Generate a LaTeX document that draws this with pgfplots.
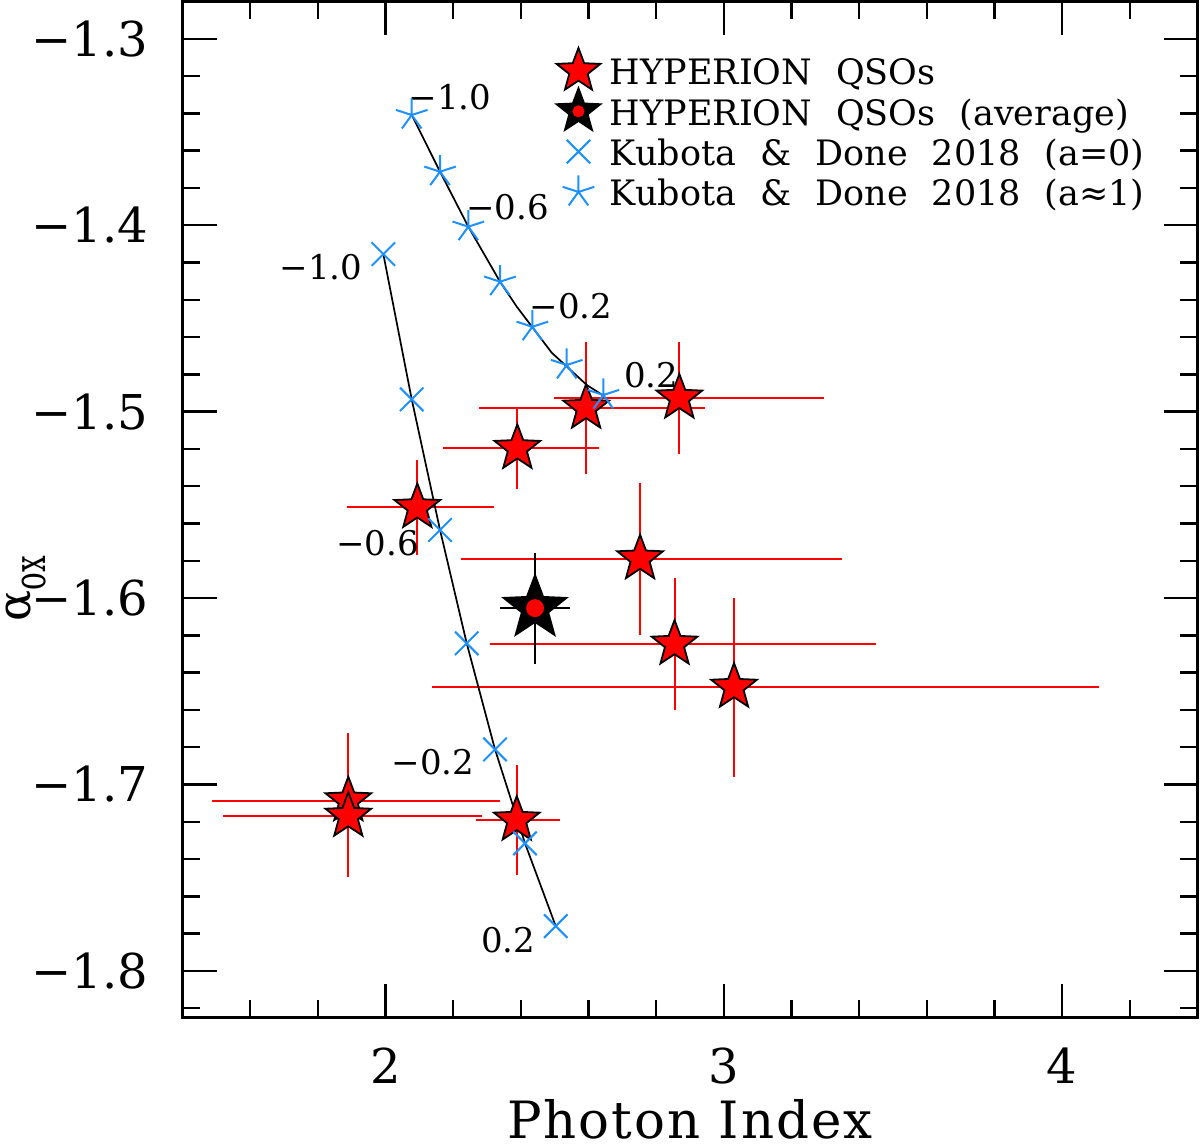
\documentclass[border=0pt]{standalone}
\usepackage{fontspec}
\setmainfont{DejaVu Serif}
\newfontfamily\widefont[LetterSpace=4]{DejaVu Serif}
\usepackage{graphicx}
\usepackage{pgfplots}
\usepackage{pgfplotstable}
\pgfplotsset{compat=1.18}
\definecolor{dodger}{RGB}{30,144,255}
\newcommand\tickfont{\fontsize{24}{24}\selectfont}
\newcommand\legfont{\fontsize{17.5}{20}\selectfont\spaceskip=12pt\relax}
\newcommand\annfont{\fontsize{17}{17}\selectfont}
\newcommand\xlfont{\widefont\fontsize{25.7}{26}\selectfont}

\pgfdeclareplotmark{fstar}{%
  \pgfpathmoveto{\pgfpointpolar{90}{\pgfplotmarksize}}%
  \pgfpathlineto{\pgfpointpolar{126}{0.42*\pgfplotmarksize}}%
  \pgfpathlineto{\pgfpointpolar{162}{\pgfplotmarksize}}%
  \pgfpathlineto{\pgfpointpolar{198}{0.42*\pgfplotmarksize}}%
  \pgfpathlineto{\pgfpointpolar{234}{\pgfplotmarksize}}%
  \pgfpathlineto{\pgfpointpolar{270}{0.42*\pgfplotmarksize}}%
  \pgfpathlineto{\pgfpointpolar{306}{\pgfplotmarksize}}%
  \pgfpathlineto{\pgfpointpolar{342}{0.42*\pgfplotmarksize}}%
  \pgfpathlineto{\pgfpointpolar{18}{\pgfplotmarksize}}%
  \pgfpathlineto{\pgfpointpolar{54}{0.42*\pgfplotmarksize}}%
  \pgfpathclose
  \pgfusepathqfillstroke
}

\pgfplotstableread{
x y xp xm yp ym
2.5930 -1.4981 0.352 0.318 0.0353 0.0354
2.8685 -1.4927 0.428 0.370 0.0299 0.0302
2.3897 -1.5197 0.2415 0.2206 0.0211 0.0218
2.0941 -1.5514 0.2267 0.2087 0.0254 0.0255
2.7524 -1.5789 0.597 0.529 0.0407 0.0410
2.8543 -1.6247 0.596 0.544 0.0356 0.0354
3.0302 -1.6478 1.078 0.893 0.0479 0.0481
1.8901 -1.7087 0.4484 0.4038 0.0364 0.0360
1.8901 -1.7170 0.3943 0.3695 0.0328 0.0328
2.3879 -1.7191 0.128 0.1203 0.0295 0.0295
}\hyperion

\pgfplotstableread{
x y xp xm yp ym
2.442 -1.6054 0.1034 0.1035 0.0295 0.0300
}\average

\pgfplotstableread{
x y
1.9936 -1.4155
2.0775 -1.4934
2.1612 -1.5635
2.2401 -1.6243
2.3237 -1.6812
2.4124 -1.7316
2.5032 -1.7760
}\kdzero

\pgfplotstableread{
x y
2.0775 -1.3409
2.1612 -1.3713
2.2448 -1.4008
2.3385 -1.4303
2.4340 -1.4545
2.5357 -1.4750
2.6439 -1.4911
}\kdone

\pgfplotstableread{
x y
2.0775 -1.3409
2.1612 -1.3713
2.2448 -1.4008
2.3385 -1.4303
2.3879 -1.4437
2.4361 -1.4552
2.4913 -1.4684
2.5948 -1.4857
2.6439 -1.4914
}\kdoneline

\begin{document}
\begin{tikzpicture}
\begin{axis}[
  scale only axis, width=507.5pt, height=508pt,
  xmin=1.4, xmax=4.4, ymin=-1.825, ymax=-1.28,
  xtick={2,3,4}, xticklabels={2,3,4},
  ytick={-1.8,-1.7,-1.6,-1.5,-1.4,-1.3},
  yticklabels={−1.8,−1.7,−1.6,−1.5,−1.4,−1.3},
  minor xtick={1.6,1.8,2.2,2.4,2.6,2.8,3.2,3.4,3.6,3.8,4.2},
  minor ytick={-1.82,-1.78,-1.76,-1.74,-1.72,-1.68,-1.66,-1.64,-1.62,-1.58,-1.56,-1.54,-1.52,-1.48,-1.46,-1.44,-1.42,-1.38,-1.36,-1.34,-1.32},
  tick align=inside, tick pos=both,
  major tick length=17pt, minor tick length=8.75pt,
  every tick/.style={black, line width=1.2pt},
  axis line style={line width=1.5pt},
  xticklabel style={font=\tickfont, inner sep=0pt, anchor=north, yshift=-14.75pt},
  yticklabel style={font=\tickfont, inner sep=0pt, anchor=east, xshift=-17pt},
  xlabel={Photon Index},
  xlabel style={font=\xlfont, at={(axis description cs:0.5,0)}, anchor=base, yshift=-60.5pt, inner sep=0pt},
  ylabel={{\fontsize{23}{23}\selectfont α\raisebox{-7.5pt}{\scalebox{0.67}[1]{\fontsize{22}{22}\selectfont ox}}}},
  ylabel style={at={(axis description cs:-0.1493,0.3893)}, anchor=base west, inner sep=0pt},
  legend cell align=left,
  legend style={at={(axis description cs:0.3655,0.9467)}, anchor=north west,
    draw=none, fill=none, inner sep=0pt, outer sep=0pt,
    row sep=0pt, column sep=0pt, font=\legfont,
    nodes={inner sep=0pt, text height=13pt, text depth=4pt}},
  legend image code/.code={
    \draw[#1, overlay] plot coordinates {(0pt,2.4pt)};
    \path[draw=none, fill=none] (-12.5pt,-10.08pt) rectangle (15.75pt,10.08pt);
  },
]
% HYPERION QSOs
\addplot[only marks, mark=fstar, mark size=12pt, draw=black, fill=red, line width=0.9pt, forget plot,
  error bars/.cd, x dir=both, x explicit, y dir=both, y explicit, error mark=none,
  error bar style={red, line width=1pt}]
  table[x=x, y=y, x error plus=xp, x error minus=xm, y error plus=yp, y error minus=ym]{\hyperion};
% average
\addplot[only marks, mark=fstar, mark size=16.5pt, draw=black, fill=black, line width=0.9pt, forget plot,
  error bars/.cd, x dir=both, x explicit, y dir=both, y explicit, error mark=none,
  error bar style={black, line width=1.3pt}]
  table[x=x, y=y, x error plus=xp, x error minus=xm, y error plus=yp, y error minus=ym]{\average};
\addplot[only marks, mark=*, mark size=4.25pt, red, forget plot] table[x=x, y=y]{\average};
% model curves
\addplot[black, line width=0.85pt, forget plot] table[x=x, y=y]{\kdzero};
\addplot[black, line width=0.85pt, forget plot] table[x=x, y=y]{\kdoneline};
\addplot[only marks, mark=x, mark size=8.3pt, dodger, line width=1pt, forget plot] table[x=x, y=y]{\kdzero};
\addplot[only marks, mark=star, mark size=8.3pt, dodger, line width=1pt, forget plot] table[x=x, y=y]{\kdone};

% legend
\addlegendimage{mark=fstar, mark size=11.5pt, draw=black, fill=red, line width=0.9pt}
\addlegendentry{HYPERION QSOs}
\addlegendimage{legend image code/.code={
    \draw[overlay, mark=fstar, mark size=11.5pt, draw=black, fill=black, line width=0.9pt] plot coordinates {(0pt,2.4pt)};
    \draw[overlay, mark=*, mark size=2.8pt, red] plot coordinates {(0pt,2.4pt)};
    \path[draw=none, fill=none] (-12.5pt,-10.08pt) rectangle (15.75pt,10.08pt);}}
\addlegendentry{HYPERION QSOs (average)}
\addlegendimage{mark=x, mark size=8.3pt, dodger, line width=1pt}
\addlegendentry{Kubota \& Done 2018 (a=0)}
\addlegendimage{mark=star, mark size=8.3pt, dodger, line width=1pt}
\addlegendentry{Kubota \& Done 2018 (a≈1)}

% curve labels
\node[font=\annfont, inner sep=0pt] at (axis cs:2.1907,-1.3315) {−1.0};
\node[font=\annfont, inner sep=0pt] at (axis cs:2.3607,-1.3901) {−0.6};
\node[font=\annfont, inner sep=0pt] at (axis cs:2.5484,-1.4434) {−0.2};
\node[font=\annfont, inner sep=0pt] at (axis cs:2.7849,-1.4804) {0.2};
\node[font=\annfont, inner sep=0pt] at (axis cs:1.8094,-1.4223) {−1.0};
\node[font=\annfont, inner sep=0pt] at (axis cs:1.9764,-1.5705) {−0.6};
\node[font=\annfont, inner sep=0pt] at (axis cs:2.1405,-1.6880) {−0.2};
\node[font=\annfont, inner sep=0pt] at (axis cs:2.3622,-1.7835) {0.2};

\coordinate (bbSW) at ([shift={(-91.25pt,-64.25pt)}]rel axis cs:0,0);
\coordinate (bbNE) at ([shift={(1.25pt,0.75pt)}]rel axis cs:1,1);
\end{axis}
\pgfresetboundingbox
\path[use as bounding box] (bbSW) rectangle (bbNE);
\end{tikzpicture}
\end{document}
